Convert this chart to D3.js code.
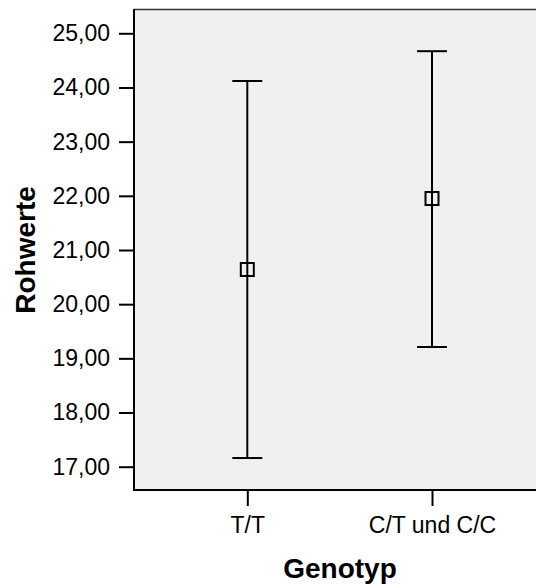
<!DOCTYPE html>
<html>
<head>
<meta charset="utf-8">
<script src="https://cdn.jsdelivr.net/npm/d3@7"></script>
<style>
  html, body { margin: 0; padding: 0; background: #fff; }
  svg { display: block; font-family: Arial, "Liberation Sans", sans-serif; }
</style>
</head>
<body>
<div id="chart"></div>
<script>
const categories = ["T/T", "C/T und C/C"];
const means = [20.64, 21.95];
const upper = [24.12, 24.67];
const lower = [17.16, 19.21];
const yTicks = [17, 18, 19, 20, 21, 22, 23, 24, 25];

const WIDTH = 536;
const HEIGHT = 587;
const PLOT = { left: 134, right: 536, top: 9, bottom: 490 };
const FONT = "Arial, 'Liberation Sans', sans-serif";

const svg = d3.select("#chart")
    .append("svg")
    .attr("width", WIDTH)
    .attr("height", HEIGHT);

const y = d3.scaleLinear()
    .domain([17, 25])
    .range([466.7, 33.3]);

const x = d3.scalePoint()
    .domain(categories)
    .range([247.3, 432])
    .padding(0);

// plot background
svg.append("rect")
    .attr("x", PLOT.left)
    .attr("y", PLOT.top)
    .attr("width", PLOT.right - PLOT.left)
    .attr("height", PLOT.bottom - PLOT.top)
    .attr("fill", "#f0f0f0");

svg.append("line")
    .attr("x1", PLOT.left)
    .attr("x2", PLOT.right)
    .attr("y1", PLOT.top + 0.5)
    .attr("y2", PLOT.top + 0.5)
    .attr("stroke", "#333")
    .attr("stroke-width", 1.5);

// y axis
const yAxis = svg.append("g")
    .attr("transform", `translate(${PLOT.left},0)`)
    .call(d3.axisLeft(y).tickValues(yTicks).tickSize(15).tickPadding(9)
        .tickFormat(v => d3.format(".2f")(v).replace(".", ",")));
yAxis.select(".domain").remove();
yAxis.attr("font-size", null).attr("font-family", null);
yAxis.selectAll(".tick line").attr("stroke", "#000").attr("stroke-width", 2);
yAxis.selectAll(".tick text")
    .style("font-size", "23px")
    .style("font-family", FONT)
    .attr("fill", "#000");

// x axis
const xAxis = svg.append("g")
    .attr("transform", `translate(0,${PLOT.bottom})`)
    .call(d3.axisBottom(x).tickSize(16).tickPadding(11));
xAxis.select(".domain").remove();
xAxis.attr("font-size", null).attr("font-family", null);
xAxis.selectAll(".tick line").attr("stroke", "#000").attr("stroke-width", 2);
xAxis.selectAll(".tick text")
    .style("font-size", "23px")
    .style("font-family", FONT)
    .attr("fill", "#000");

// axis lines
svg.append("line")
    .attr("x1", PLOT.left).attr("x2", PLOT.left)
    .attr("y1", PLOT.top).attr("y2", PLOT.bottom + 1)
    .attr("stroke", "#000").attr("stroke-width", 2);
svg.append("line")
    .attr("x1", PLOT.left - 1).attr("x2", PLOT.right)
    .attr("y1", PLOT.bottom).attr("y2", PLOT.bottom)
    .attr("stroke", "#000").attr("stroke-width", 2);

// error bars
const rows = categories.map((c, i) => ({ name: c, mean: means[i], hi: upper[i], lo: lower[i] }));
const CAP = 15;
const BOX = 13;

const bars = svg.append("g")
    .selectAll("g")
    .data(rows)
    .enter()
    .append("g");

bars.append("line")
    .attr("x1", d => x(d.name)).attr("x2", d => x(d.name))
    .attr("y1", d => y(d.hi)).attr("y2", d => y(d.lo))
    .attr("stroke", "#000").attr("stroke-width", 2);

bars.append("line")
    .attr("x1", d => x(d.name) - CAP).attr("x2", d => x(d.name) + CAP)
    .attr("y1", d => y(d.hi)).attr("y2", d => y(d.hi))
    .attr("stroke", "#000").attr("stroke-width", 2);

bars.append("line")
    .attr("x1", d => x(d.name) - CAP).attr("x2", d => x(d.name) + CAP)
    .attr("y1", d => y(d.lo)).attr("y2", d => y(d.lo))
    .attr("stroke", "#000").attr("stroke-width", 2);

bars.append("rect")
    .attr("x", d => x(d.name) - BOX / 2)
    .attr("y", d => y(d.mean) - BOX / 2)
    .attr("width", BOX)
    .attr("height", BOX)
    .attr("fill", "none")
    .attr("stroke", "#000")
    .attr("stroke-width", 2);

// axis titles
svg.append("text")
    .attr("x", 340)
    .attr("y", 578)
    .attr("text-anchor", "middle")
    .style("font-size", "28px")
    .style("font-family", FONT)
    .attr("font-weight", "bold")
    .text("Genotyp");

svg.append("text")
    .attr("transform", "translate(35,250) rotate(-90)")
    .attr("text-anchor", "middle")
    .style("font-size", "28px")
    .style("font-family", FONT)
    .attr("font-weight", "bold")
    .text("Rohwerte");
</script>
</body>
</html>
